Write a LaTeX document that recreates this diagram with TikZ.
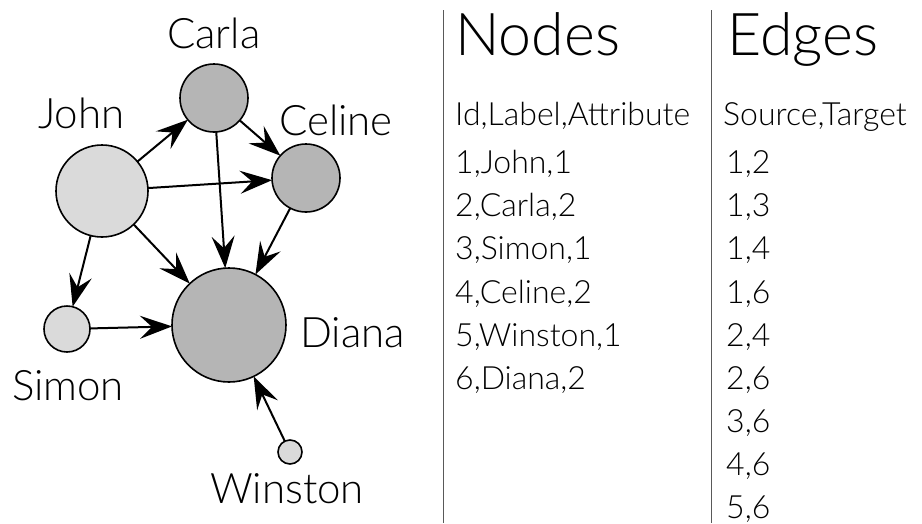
\documentclass[tikz,border=0pt]{standalone}
\usepackage{fontspec}
\setmainfont{Lato}[UprightFont={* Light}]
\usetikzlibrary{arrows.meta}

\definecolor{lightnode}{gray}{0.855}
\definecolor{darknode}{gray}{0.71}
\definecolor{rulegray}{gray}{0.35}

\tikzset{
  person/.style={circle, draw=black, line width=1.6pt, inner sep=0pt, outer sep=0pt},
  link/.style={-{Stealth[length=32pt,width=23pt,inset=12pt]}, line width=2pt},
  personname/.style={anchor=base west, inner sep=0pt, font=\fontsize{42}{48}\selectfont},
  heading/.style={anchor=base west, inner sep=0pt, font=\fontsize{59}{66}\selectfont},
  entry/.style={anchor=base west, inner sep=0pt, font=\fontsize{32}{36}\selectfont},
}

\begin{document}
\begin{tikzpicture}[x=1pt,y=-1pt]
    \useasboundingbox (0,0) rectangle (922,523);

    % the graph
    \node[person, fill=lightnode, minimum size=92pt] (john) at (102,191) {};
    \node[person, fill=darknode, minimum size=68pt] (carla) at (214,98) {};
    \node[person, fill=lightnode, minimum size=46pt] (simon) at (67,329) {};
    \node[person, fill=darknode, minimum size=68pt] (celine) at (306,178) {};
    \node[person, fill=lightnode, minimum size=24pt] (winston) at (290,452) {};
    \node[person, fill=darknode, minimum size=114pt] (diana) at (229,325) {};

    \draw[link] (john) -- (carla);
    \draw[link] (john) -- (simon);
    \draw[link] (john) -- (celine);
    \draw[link] (john) -- (diana);
    \draw[link] (carla) -- (celine);
    \draw[link] (carla) -- (diana);
    \draw[link] (simon) -- (diana);
    \draw[link] (celine) -- (diana);
    \draw[link] (winston) -- (diana);

    \node[personname] (john_label) at (38,128) {John};
    \node[personname] (carla_label) at (167,48) {Carla};
    \node[personname] (simon_label) at (12,400) {Simon};
    \node[personname] (celine_label) at (279,135) {Celine};
    \node[personname] (winston_label) at (210,503) {Winston};
    \node[personname] (diana_label) at (300,347) {Diana};

    % the two lists
    \coordinate (rule_nodes) at (443,10);
    \coordinate (rule_edges) at (711,10);
    \draw[rulegray, line width=1pt] (rule_nodes) -- (443,523);
    \draw[rulegray, line width=1pt] (rule_edges) -- (711,523);

    \node[heading] (nodes_title) at (455,55) {Nodes};
    \node[entry] (nodes_head) at (455,125) {Id,Label,Attribute};
    \node[entry] (node1) at (455,173) {1,John,1};
    \node[entry] (node2) at (455,216) {2,Carla,2};
    \node[entry] (node3) at (455,259) {3,Simon,1};
    \node[entry] (node4) at (455,303) {4,Celine,2};
    \node[entry] (node5) at (455,346) {5,Winston,1};
    \node[entry] (node6) at (455,389) {6,Diana,2};

    \node[heading] (edges_title) at (727,55) {Edges};
    \node[entry] (edges_head) at (723,125) {Source,Target};
    \node[entry] (edge12) at (726,173) {1,2};
    \node[entry] (edge13) at (726,216) {1,3};
    \node[entry] (edge14) at (726,259) {1,4};
    \node[entry] (edge16) at (726,303) {1,6};
    \node[entry] (edge24) at (726,346) {2,4};
    \node[entry] (edge26) at (726,389) {2,6};
    \node[entry] (edge36) at (726,432) {3,6};
    \node[entry] (edge46) at (726,475) {4,6};
    \node[entry] (edge56) at (726,518) {5,6};
\end{tikzpicture}
\end{document}
